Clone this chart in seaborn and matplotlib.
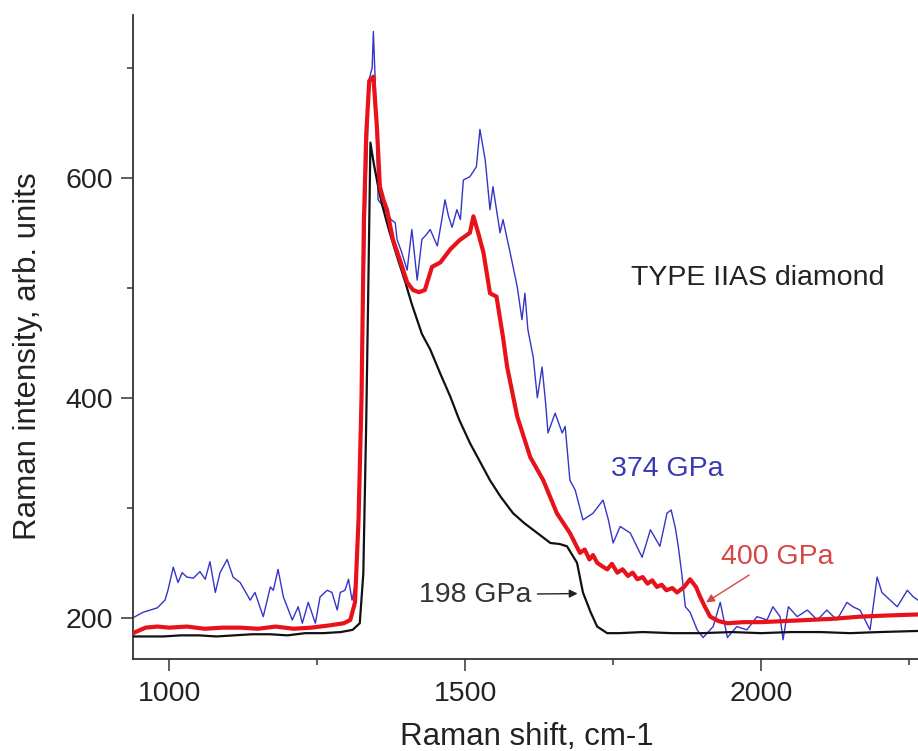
import matplotlib
matplotlib.use("Agg")
import matplotlib.pyplot as plt
from matplotlib.ticker import MultipleLocator
import seaborn as sns

# 198 GPa spectrum (black)
x_198 = [939, 960, 990, 1020, 1050, 1080, 1110, 1140, 1170, 1200, 1230, 1260, 1290, 1310,
         1322, 1328, 1333, 1337, 1340, 1345, 1352, 1360, 1370, 1380, 1390, 1399, 1410, 1427,
         1441, 1458, 1475, 1490, 1508, 1525, 1542, 1560, 1581, 1600, 1622, 1644, 1660, 1672,
         1689, 1699, 1712, 1723, 1740, 1760, 1800, 1850, 1900, 1950, 2000, 2050, 2100, 2150,
         2200, 2265]
y_198 = [183, 183, 183, 184, 184, 183, 184, 185, 185, 184, 186, 186, 187, 189,
         195, 240, 380, 520, 632, 615, 595, 575, 555, 537, 520, 505, 485, 458,
         444, 422, 401, 380, 359, 342, 325, 310, 295, 286, 277, 268, 267, 265,
         250, 223, 205, 192, 186, 186, 187, 186, 186, 187, 186, 187, 187, 186,
         187, 188]

# 400 GPa spectrum (red)
x_400 = [939, 960, 980, 1000, 1030, 1060, 1090, 1120, 1150, 1180, 1210, 1240, 1270, 1295,
         1306, 1314, 1320, 1325, 1329, 1333, 1338, 1345, 1351, 1356, 1362, 1368, 1378, 1390,
         1402, 1412, 1422, 1432, 1444, 1458, 1475, 1490, 1508, 1514, 1522, 1531, 1542, 1553,
         1564, 1571, 1588, 1610, 1632, 1655, 1677, 1694, 1702, 1710, 1716, 1723, 1731, 1740,
         1748, 1757, 1766, 1775, 1783, 1791, 1800, 1808, 1816, 1824, 1832, 1840, 1850, 1858,
         1870, 1880, 1890, 1897, 1905, 1914, 1928, 1943, 1970, 2000, 2040, 2080, 2120, 2167,
         2210, 2265]
y_400 = [186, 191, 192, 191, 192, 190, 191, 191, 190, 192, 190, 191, 193, 195,
         198, 214, 290, 400, 560, 640, 688, 692, 646, 592, 580, 571, 544, 525,
         505, 498, 496, 498, 519, 523, 535, 543, 550, 565, 550, 532, 495, 492,
         455, 428, 383, 346, 325, 295, 277, 259, 262, 253, 257, 250, 247, 244,
         249, 241, 244, 238, 241, 235, 237, 231, 234, 228, 230, 225, 227, 223,
         228, 235, 228, 219, 210, 201, 197, 195, 196, 196, 197, 198, 199, 201,
         202, 203]

# 374 GPa spectrum (blue)
x_374 = [939, 956, 980, 993, 998, 1007, 1015, 1022, 1030, 1041, 1052, 1061, 1069, 1078,
         1086, 1098, 1108, 1120, 1137, 1145, 1159, 1171, 1176, 1184, 1193, 1208, 1218, 1225,
         1235, 1247, 1255, 1267, 1275, 1284, 1289, 1297, 1303, 1309, 1315, 1320, 1326, 1332,
         1338, 1343, 1345, 1348, 1351, 1353, 1360, 1368, 1375, 1382, 1385, 1393, 1402, 1410,
         1419, 1427, 1434, 1441, 1453, 1460, 1466, 1472, 1478, 1486, 1492, 1497, 1508, 1519,
         1525, 1534, 1542, 1547, 1559, 1564, 1576, 1588, 1596, 1601, 1606, 1615, 1622, 1630,
         1636, 1640, 1652, 1664, 1669, 1677, 1686, 1699, 1716, 1733, 1742, 1750, 1762, 1779,
         1799, 1813, 1829, 1841, 1848, 1855, 1860, 1866, 1872, 1880, 1892, 1902, 1919, 1931,
         1943, 1959, 1976, 1993, 2010, 2020, 2032, 2037, 2046, 2061, 2078, 2095, 2111, 2128,
         2145, 2155, 2167, 2184, 2196, 2204, 2218, 2230, 2247, 2257, 2265]
y_374 = [200, 205, 209, 216, 225, 246, 232, 241, 237, 236, 242, 235, 251, 223,
         241, 253, 237, 232, 216, 223, 201, 228, 225, 244, 219, 198, 210, 195,
         214, 195, 219, 225, 223, 207, 223, 225, 235, 216, 232, 300, 420, 580,
         690, 700, 733, 690, 623, 580, 575, 568, 562, 559, 544, 532, 516, 553,
         507, 544, 548, 553, 538, 560, 580, 565, 555, 571, 562, 598, 601, 610,
         644, 616, 571, 592, 550, 562, 532, 501, 471, 495, 462, 437, 400, 428,
         395, 368, 386, 368, 374, 325, 316, 289, 295, 307, 289, 268, 283, 277,
         255, 280, 265, 295, 298, 282, 265, 240, 210, 205, 189, 182, 192, 214,
         182, 192, 189, 201, 198, 210, 201, 180, 210, 201, 207, 198, 207, 198,
         214, 210, 207, 189, 237, 223, 216, 210, 225, 219, 216]

sns.set_theme(style="ticks")
plt.rcParams['font.family'] = ['Liberation Sans', 'DejaVu Sans']

fig = plt.figure(figsize=(9.18, 7.51), dpi=100)
ax = fig.add_axes([0.1449, 0.1225, 0.8551, 0.8575])

sns.lineplot(x=x_374, y=y_374, color='#3535c8', linewidth=1.0, ax=ax, zorder=2)
sns.lineplot(x=x_198, y=y_198, color='#111111', linewidth=1.6, ax=ax, zorder=3)
sns.lineplot(x=x_400, y=y_400, color='#e8121a', linewidth=3.0, ax=ax, zorder=4)

ax.set_xlim(939, 2265)
ax.set_ylim(162.5, 748)

ax.xaxis.set_major_locator(MultipleLocator(500))
ax.xaxis.set_minor_locator(MultipleLocator(250))
ax.yaxis.set_major_locator(MultipleLocator(200))
ax.yaxis.set_minor_locator(MultipleLocator(100))

sns.despine(ax=ax)
for s in ['left', 'bottom']:
    ax.spines[s].set_color('#333333')
    ax.spines[s].set_linewidth(1.3)

ax.tick_params(which='major', length=8.5, width=1.1, color='#333333',
               labelsize=20.5, labelcolor='#222222')
ax.tick_params(which='minor', length=4.5, width=1.1, color='#333333')
ax.tick_params(axis='y', which='major', pad=6)
ax.tick_params(axis='x', which='major', pad=7)

ax.set_xlabel("Raman shift, cm-1", fontsize=22.5, color='#222222')
ax.set_ylabel("Raman intensity, arb. units", fontsize=22.5, color='#222222')
ax.xaxis.set_label_coords(0.502, -0.098)
ax.yaxis.set_label_coords(-0.115, 0.47)

ax.text(1995, 509, "TYPE IIAS diamond", fontsize=20.5, color='#222222',
        ha='center', va='center')
ax.text(1841, 335, "374 GPa", fontsize=20.5, color='#3a3ab4',
        ha='center', va='center')
ax.annotate("400 GPa", xy=(1907, 214), xytext=(2027, 255), fontsize=20.5,
            color='#d84545', ha='center', va='center',
            arrowprops=dict(arrowstyle='-|>', color='#d84545', lw=1.0,
                            mutation_scale=12, shrinkA=2, shrinkB=0))
ax.annotate("198 GPa", xy=(1690, 222), xytext=(1517, 221), fontsize=20.5,
            color='#333333', ha='center', va='center',
            arrowprops=dict(arrowstyle='-|>', color='#222222', lw=1.0,
                            mutation_scale=12, shrinkA=2, shrinkB=0))

fig.savefig("out.png", dpi=100)
